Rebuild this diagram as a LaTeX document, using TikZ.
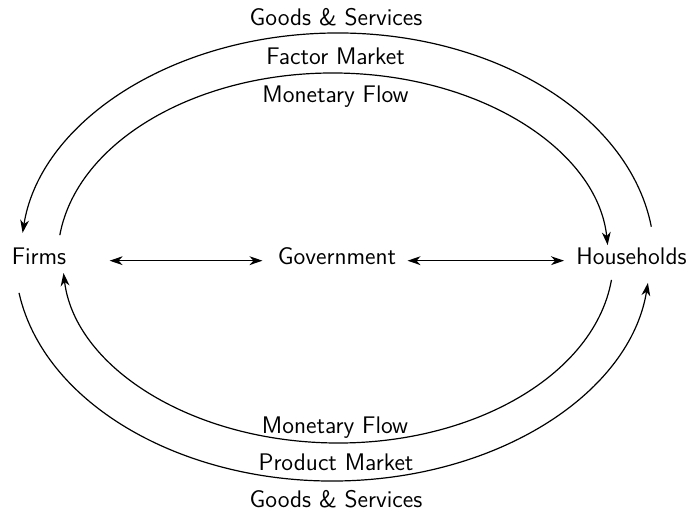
\documentclass[tikz,border=0pt]{standalone}
\usepackage{tikz}
\usetikzlibrary{calc,arrows.meta,positioning}

\begin{document}
\begin{tikzpicture}[x=0.5pt,y=0.5pt,
    tip/.style={Stealth[length=6.5pt,width=4.4pt,inset=2pt]},
    flow/.style={-{Stealth[length=6.5pt,width=4.4pt,inset=2pt]}, line width=0.6pt},
    link/.style={{Stealth[length=6.5pt,width=4.4pt,inset=2pt]}-{Stealth[length=6.5pt,width=4.4pt,inset=2pt]}, line width=0.6pt},
    lbl/.style={font=\sffamily\fontsize{12}{14}\selectfont, anchor=base, inner sep=0pt}]
    \useasboundingbox (0,0) rectangle (691,515);
    % Sectors
    \node[lbl] (firms) at (39,250) {Firms};
    \node[lbl] (gov) at (337,250) {Government};
    \node[lbl] (hh) at (631.5,250) {Households};
    % Links with the government
    \draw[link, shorten <=21.5pt, shorten >=7.5pt] (firms.mid east) -- (gov.mid west);
    \draw[link, shorten <=5.5pt, shorten >=6pt] (gov.mid east) -- (hh.mid west);
    % Ring centres
    \coordinate (c1) at (337.5,257);
    \coordinate (c2) at (333,257);
    \coordinate (c3) at (338,257);
    \coordinate (c4) at (332.5,257);
    % Outer top ring: households to firms
    \draw[flow] ($(c1)+(8:316.9 and 225)$) arc[start angle=8, end angle=173.6, x radius=316.9, y radius=225];
    % Inner top ring: firms to households
    \draw[flow] ($(c2)+(172.9:275.3 and 185)$) arc[start angle=172.9, end angle=4, x radius=275.3, y radius=185];
    % Inner bottom ring: households to firms
    \draw[flow] ($(c3)+(-6.8:275.4 and 185)$) arc[start angle=-6.8, end angle=-175.35, x radius=275.4, y radius=185];
    % Outer bottom ring: firms to households
    \draw[flow] ($(c4)+(-171:317.4 and 223)$) arc[start angle=-171, end angle=-6.4, x radius=317.4, y radius=223];
    % Factor market labels
    \node[lbl] (gstop) at (336,489) {Goods \& Services};
    \node[lbl] (fm) at (335.5,450) {Factor Market};
    \node[lbl] (mftop) at (335.5,412) {Monetary Flow};
    % Product market labels
    \node[lbl] (mfbot) at (335,82) {Monetary Flow};
    \node[lbl] (pm) at (336,45) {Product Market};
    \node[lbl] (gsbot) at (336,8) {Goods \& Services};
\end{tikzpicture}
\end{document}
